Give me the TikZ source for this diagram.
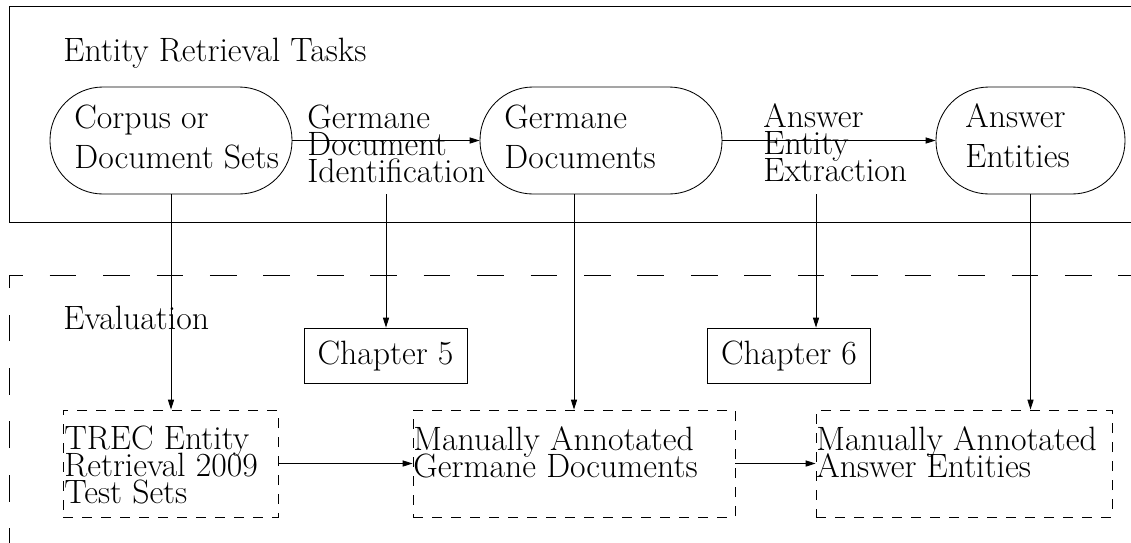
\documentclass[tikz,border=0pt]{standalone}
\usetikzlibrary{arrows.meta}

\newdimen\pxu \pxu=0.025cm
\newcommand\labelfont{\fontsize{24}{19.2}\selectfont\lineskiplimit=-30pt}
\newcommand\stadiumfont{\fontsize{24}{28.45}\selectfont\lineskiplimit=-30pt}

\tikzset{
  stadium/.style={draw, rounded corners=53\pxu, minimum width=#1, minimum height=107\pxu, inner sep=0pt},
  stadiumtext/.style={anchor=base west, inner sep=0pt, align=left, font=\stadiumfont},
  steplabel/.style={anchor=base west, inner sep=0pt, align=left, font=\labelfont},
  chapterbox/.style={draw, minimum width=163\pxu, minimum height=55\pxu, inner sep=0pt, font=\labelfont},
  evalbox/.style={draw, dash pattern=on 10\pxu off 9\pxu, minimum width=#1, minimum height=107\pxu, inner sep=0pt},
  flow/.style={-{Triangle[length=7pt,width=4.3pt]}},
}

\begin{document}
\begin{tikzpicture}[x=0.025cm, y=-0.025cm, line width=0.6pt]
  \useasboundingbox (0,0) rectangle (1131,542);
  \clip (0,0) rectangle (1131,542);

  % frames
  \draw (9,6) rectangle (1160,222);
  \draw[dash pattern=on 19pt off 19pt, dash phase=27.3pt] (9,570) |- (1160,275);
  \node (tasks) [steplabel] at (63,61) {Entity Retrieval Tasks};
  \node (eval) [steplabel] at (63,329) {Evaluation};

  % task chain (base = last line)
  \node (corpus) [stadium=242\pxu] at (171,140.5) {};
  \node (germane) [stadium=242\pxu] at (601,140.5) {};
  \node (answer) [stadium=189\pxu] at (1030.5,140.5) {};
  \node (corpustext) [stadiumtext] at (74,168) {Corpus or\\Document Sets};
  \node (germanetext) [stadiumtext] at (504,168) {Germane\\Documents};
  \node (answertext) [stadiumtext] at (965,167) {Answer\\Entities};

  \node (gdi) [steplabel] at (307,182) {Germane\\Document\\Identification};
  \node (aee) [steplabel] at (763,181) {Answer\\Entity\\Extraction};
  \coordinate (gdifoot) at (386,194);
  \coordinate (aeefoot) at (816,194);

  \draw[flow] (corpus) -- (germane);
  \draw[flow] (germane) -- (answer);

  % evaluation
  \node (ch5) [chapterbox] at (385.5,355.5) {Chapter 5};
  \node (ch6) [chapterbox] at (789,355.5) {Chapter 6};

  \node (trec) [evalbox=215\pxu] at (170.5,463.5) {};
  \node (mgd) [evalbox=322\pxu] at (574,463.5) {};
  \node (mae) [evalbox=296\pxu] at (964,463.5) {};
  \node (trectext) [steplabel] at (64,503) {TREC Entity\\Retrieval 2009\\Test Sets};
  \node (mgdtext) [steplabel] at (413,477) {Manually Annotated\\Germane Documents};
  \node (maetext) [steplabel] at (816,477) {Manually Annotated\\Answer Entities};

  \draw[flow] (corpus.south) -- (corpus.south |- trec.north);
  \draw[flow] (gdifoot) -- (gdifoot |- ch5.north);
  \draw[flow] (germane.south -| mgd.north) -- (mgd.north);
  \draw[flow] (aeefoot) -- (aeefoot |- ch6.north);
  \draw[flow] (answer.south) -- (answer.south |- mae.north);
  \draw[flow] (trec) -- (mgd);
  \draw[flow] (mgd) -- (mae);
\end{tikzpicture}
\end{document}
